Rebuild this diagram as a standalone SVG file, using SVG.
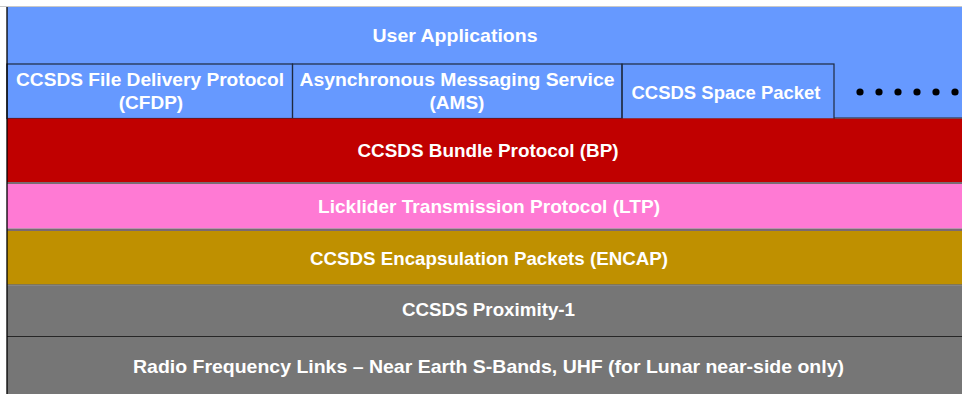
<svg xmlns="http://www.w3.org/2000/svg" width="962" height="394" viewBox="0 0 962 394">
<style>
text{font-family:"Liberation Sans",Arial,sans-serif;font-weight:bold;font-size:19px;fill:#ffffff;text-anchor:middle}
.edge{stroke:#1f2a40;stroke-width:1.2;fill:none}
.sep{stroke:#262626;stroke-width:1.2}
</style>
<rect x="0" y="0" width="962" height="394" fill="#ffffff"/>
<g id="user-applications">
<rect x="7" y="7" width="955" height="111.5" fill="#6699FF"/>
<text x="455" y="42" textLength="165" lengthAdjust="spacingAndGlyphs">User Applications</text>
</g>
<g id="cfdp">
<rect x="7" y="64" width="285.5" height="54.5" fill="#6699FF" class="edge"/>
<text x="150" y="86" textLength="268" lengthAdjust="spacingAndGlyphs">CCSDS File Delivery Protocol</text>
<text x="151" y="108.5">(CFDP)</text>
</g>
<g id="ams">
<rect x="292.5" y="64" width="329.5" height="54.5" fill="#6699FF" class="edge"/>
<text x="457" y="86" textLength="315" lengthAdjust="spacingAndGlyphs">Asynchronous Messaging Service</text>
<text x="457" y="108.5">(AMS)</text>
</g>
<g id="space-packet">
<rect x="622" y="64" width="212" height="55" fill="#6699FF" class="edge"/>
<text x="726" y="98.5" textLength="189" lengthAdjust="spacingAndGlyphs">CCSDS Space Packet</text>
</g>
<g id="more" fill="#000000">
<circle cx="860" cy="92" r="3.6"/>
<circle cx="879" cy="92" r="3.6"/>
<circle cx="898" cy="92" r="3.6"/>
<circle cx="917" cy="92" r="3.6"/>
<circle cx="936" cy="92" r="3.6"/>
<circle cx="955" cy="92" r="3.6"/>
</g>
<g id="bp">
<rect x="7" y="118.5" width="955" height="63.5" fill="#C00000"/>
<line x1="834" y1="118" x2="962" y2="118" class="sep"/>
<text x="488" y="157" textLength="261" lengthAdjust="spacingAndGlyphs">CCSDS Bundle Protocol (BP)</text>
</g>
<g id="ltp">
<rect x="7" y="182" width="955" height="2" fill="#7a6a72"/>
<rect x="7" y="184" width="955" height="44.5" fill="#FF7AD4"/>
<rect x="7" y="228.5" width="955" height="2.5" fill="#7a6a72"/>
<text x="489" y="213" textLength="342" lengthAdjust="spacingAndGlyphs">Licklider Transmission Protocol (LTP)</text>
</g>
<g id="encap">
<rect x="7" y="231" width="955" height="53.5" fill="#BF9000"/>
<line x1="7" y1="285" x2="962" y2="285" class="sep"/>
<text x="489" y="265" textLength="358" lengthAdjust="spacingAndGlyphs">CCSDS Encapsulation Packets (ENCAP)</text>
</g>
<g id="proximity-1">
<rect x="7" y="285.5" width="955" height="50.5" fill="#767676"/>
<line x1="7" y1="336.5" x2="962" y2="336.5" class="sep"/>
<text x="488.5" y="316" textLength="173" lengthAdjust="spacingAndGlyphs">CCSDS Proximity-1</text>
</g>
<g id="rf-links">
<rect x="7" y="337" width="955" height="57" fill="#767676"/>
<text x="488.5" y="373" textLength="711" lengthAdjust="spacingAndGlyphs">Radio Frequency Links – Near Earth S-Bands, UHF (for Lunar near-side only)</text>
</g>
<g id="frame">
<line x1="0" y1="6.5" x2="962" y2="6.5" stroke="#c8c8c8" stroke-width="1"/>
<line x1="7" y1="7" x2="7" y2="394" stroke="#000000" stroke-width="1.3"/>
</g>
</svg>
